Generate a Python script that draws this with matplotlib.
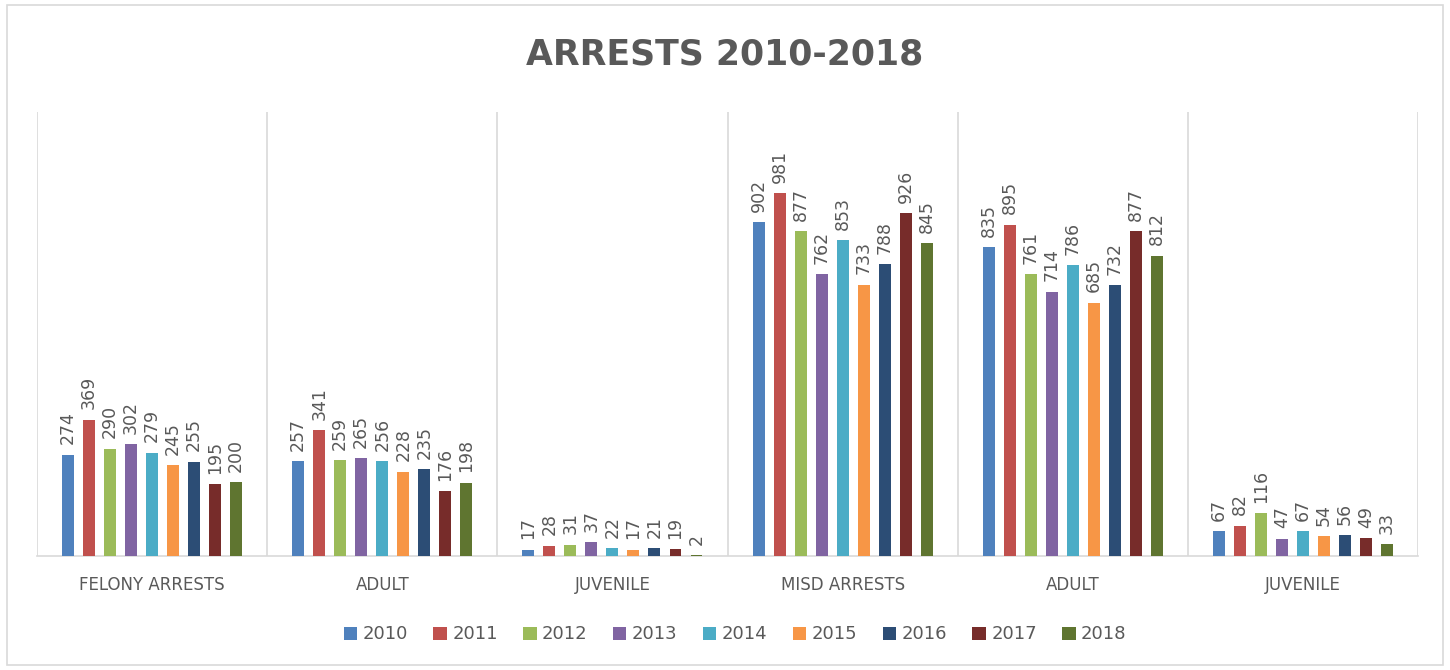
import numpy as np
import matplotlib.pyplot as plt
from matplotlib.patches import Rectangle

categories = ['FELONY ARRESTS', 'ADULT', 'JUVENILE', 'MISD ARRESTS', 'ADULT', 'JUVENILE']
years = ['2010', '2011', '2012', '2013', '2014', '2015', '2016', '2017', '2018']

v2010 = [274, 257, 17, 902, 835, 67]
v2011 = [369, 341, 28, 981, 895, 82]
v2012 = [290, 259, 31, 877, 761, 116]
v2013 = [302, 265, 37, 762, 714, 47]
v2014 = [279, 256, 22, 853, 786, 67]
v2015 = [245, 228, 17, 733, 685, 54]
v2016 = [255, 235, 21, 788, 732, 56]
v2017 = [195, 176, 19, 926, 877, 49]
v2018 = [200, 198, 2, 845, 812, 33]
series = [v2010, v2011, v2012, v2013, v2014, v2015, v2016, v2017, v2018]

colors = ['#4F81BD', '#C0504D', '#9BBB59', '#8064A2', '#4BACC6',
          '#F79646', '#2C4D75', '#772C2A', '#5F7530']
txt = '#595959'
grid = '#D9D9D9'

fig = plt.figure(figsize=(14.5, 6.7), dpi=100)
fig.patches.append(Rectangle((0.005, 0.008), 0.99, 0.984, transform=fig.transFigure,
                             fill=False, edgecolor='#D9D9D9', linewidth=1.2))
ax = fig.add_axes([0.0255, 0.170, 0.9525, 0.663])

x = np.arange(len(categories))
slot = 0.0913
bw = 0.052
for i, (vals, c, yr) in enumerate(zip(series, colors, years)):
    pos = x + (i - 4) * slot
    ax.bar(pos, vals, width=bw, color=c, label=yr, zorder=3)
    for p, v in zip(pos, vals):
        ax.text(p, v + 28, str(v), rotation=90, ha='center', va='bottom',
                fontsize=12.5, color=txt)

ax.set_xlim(-0.5, len(categories) - 0.5)
ax.set_ylim(0, 1200)
ax.set_yticks([])
ax.set_xticks(x)
ax.set_xticklabels(categories, fontsize=12, color=txt)
ax.tick_params(axis='x', length=0, pad=14)
for b in np.arange(-0.5, len(categories), 1.0):
    ax.axvline(b, color=grid, linewidth=1.2, zorder=1)
for s in ['top', 'left', 'right']:
    ax.spines[s].set_visible(False)
ax.spines['bottom'].set_color(grid)
ax.spines['bottom'].set_linewidth(1.2)

fig.text(0.5, 0.918, 'ARRESTS 2010-2018', ha='center', va='center',
         fontsize=25, fontweight='bold', color=txt)

fig.legend(loc='center', bbox_to_anchor=(0.507, 0.053), ncol=9, frameon=False,
           fontsize=13, labelcolor=txt, handlelength=0.75, handleheight=0.75,
           handletextpad=0.3, columnspacing=1.4)

plt.savefig('out.png', dpi=100)
